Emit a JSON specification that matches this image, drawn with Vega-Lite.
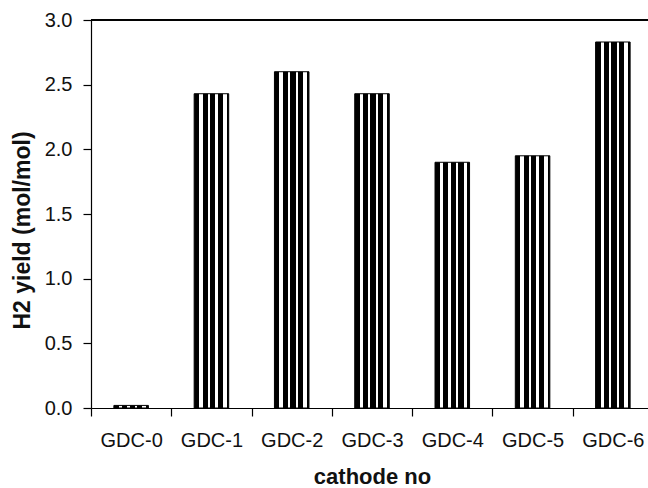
{
  "$schema": "https://vega.github.io/schema/vega-lite/v6.json",
  "width": 557,
  "height": 388,
  "autosize": {"type": "none"},
  "padding": {"left": 91, "top": 20, "right": 0, "bottom": 80},
  "background": "white",
  "config": {"view": {"stroke": null}, "font": "Liberation Sans"},
  "data": {
    "values": [
      {"cathode": "GDC-0", "yield": 0.02},
      {"cathode": "GDC-1", "yield": 2.43},
      {"cathode": "GDC-2", "yield": 2.6},
      {"cathode": "GDC-3", "yield": 2.43},
      {"cathode": "GDC-4", "yield": 1.9},
      {"cathode": "GDC-5", "yield": 1.95},
      {"cathode": "GDC-6", "yield": 2.83}
    ]
  },
  "layer": [
    {
      "mark": {
        "type": "bar",
        "width": {"band": 0.43},
        "stroke": "black",
        "strokeWidth": 1,
        "fill": {
          "gradient": "linear",
          "x1": 0, "y1": 0, "x2": 1, "y2": 0,
          "stops": [
            {"offset": 0, "color": "black"},
            {"offset": 0.146, "color": "black"},
            {"offset": 0.146, "color": "white"},
            {"offset": 0.243, "color": "white"},
            {"offset": 0.243, "color": "black"},
            {"offset": 0.39, "color": "black"},
            {"offset": 0.39, "color": "white"},
            {"offset": 0.456, "color": "white"},
            {"offset": 0.456, "color": "black"},
            {"offset": 0.612, "color": "black"},
            {"offset": 0.612, "color": "white"},
            {"offset": 0.68, "color": "white"},
            {"offset": 0.68, "color": "black"},
            {"offset": 0.825, "color": "black"},
            {"offset": 0.825, "color": "white"},
            {"offset": 0.94, "color": "white"},
            {"offset": 0.94, "color": "black"},
            {"offset": 1, "color": "black"}
          ]
        }
      },
      "encoding": {
        "x": {
          "field": "cathode",
          "type": "nominal",
          "sort": null,
          "scale": {"range": [0, 562], "paddingInner": 0, "paddingOuter": 0},
          "axis": {
            "title": "cathode no",
            "tickBand": "extent",
            "labelAngle": 0,
            "domainColor": "black",
            "domainWidth": 1.2,
            "tickColor": "black",
            "tickSize": 8,
            "tickWidth": 1.2,
            "labelFontSize": 20,
            "labelColor": "#111111",
            "labelPadding": 14,
            "titleFontSize": 22,
            "titleFontWeight": "bold",
            "titleColor": "#111111",
            "titlePadding": 16
          }
        },
        "y": {
          "field": "yield",
          "type": "quantitative",
          "scale": {"domain": [0, 3], "nice": false},
          "axis": {
            "title": "H2 yield (mol/mol)",
            "values": [0, 0.5, 1, 1.5, 2, 2.5, 3],
            "format": ".1f",
            "grid": false,
            "domainColor": "black",
            "domainWidth": 1.2,
            "tickColor": "black",
            "tickSize": 8,
            "tickWidth": 1.2,
            "labelFontSize": 20,
            "labelColor": "#111111",
            "labelPadding": 11,
            "titleFontSize": 23,
            "titleFontWeight": "bold",
            "titleColor": "#111111",
            "titlePadding": 10,
            "titleY": 210
          }
        }
      }
    },
    {
      "mark": {"type": "rule", "color": "black", "strokeWidth": 1.2},
      "encoding": {"y": {"datum": 3}}
    }
  ]
}
